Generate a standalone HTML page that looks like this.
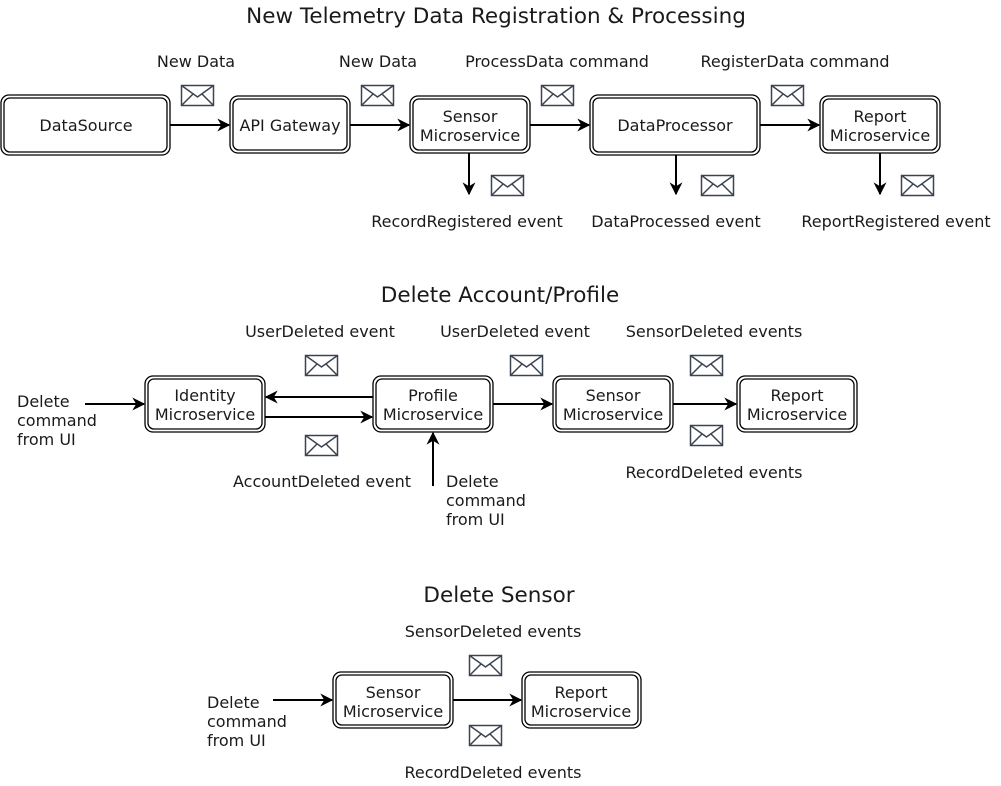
<!DOCTYPE html>
<html><head><meta charset="utf-8"><style>
html,body{margin:0;padding:0;background:#fff;}
svg{display:block;}
text{font-family:"DejaVu Sans","Liberation Sans",sans-serif;fill:#1a1a1a;}
.l{font-size:16px;}
.t{font-size:21.5px;}
</style></head><body>
<svg width="1001" height="786" viewBox="0 0 1001 786" xmlns="http://www.w3.org/2000/svg">
<defs>
<marker id="a" viewBox="0 0 10 10" refX="9" refY="5" markerWidth="13" markerHeight="13" markerUnits="userSpaceOnUse" orient="auto"><path d="M0,0 L10,5 L0,10 L3,5 z" fill="#000"/></marker>
<g id="env"><rect x="0.5" y="0.5" width="32" height="20" fill="#fff" stroke="#3a4451" stroke-width="1.5"/><path d="M0.5,0.5 L16.5,12 L32.5,0.5 M0.5,20.5 L12,9 M32.5,20.5 L21,9" fill="none" stroke="#3a4451" stroke-width="1.5"/></g>
</defs>
<g fill="none" stroke="#000" stroke-width="1.3">
<rect x="1" y="95" width="169" height="60" rx="8"/><rect x="4" y="98" width="163" height="54" rx="6"/>
<rect x="230" y="96" width="120" height="57" rx="8"/><rect x="233" y="99" width="114" height="51" rx="6"/>
<rect x="410" y="96" width="120" height="57" rx="8"/><rect x="413" y="99" width="114" height="51" rx="6"/>
<rect x="590" y="95" width="170" height="60" rx="8"/><rect x="593" y="98" width="164" height="54" rx="6"/>
<rect x="820" y="96" width="120" height="57" rx="8"/><rect x="823" y="99" width="114" height="51" rx="6"/>
<rect x="145" y="376" width="120" height="56" rx="8"/><rect x="148" y="379" width="114" height="50" rx="6"/>
<rect x="373" y="376" width="120" height="56" rx="8"/><rect x="376" y="379" width="114" height="50" rx="6"/>
<rect x="553" y="376" width="120" height="56" rx="8"/><rect x="556" y="379" width="114" height="50" rx="6"/>
<rect x="737" y="376" width="120" height="56" rx="8"/><rect x="740" y="379" width="114" height="50" rx="6"/>
<rect x="333" y="672" width="120" height="56" rx="8"/><rect x="336" y="675" width="114" height="50" rx="6"/>
<rect x="522" y="672" width="119" height="56" rx="8"/><rect x="525" y="675" width="113" height="50" rx="6"/>
</g>
<g fill="none" stroke="#000" stroke-width="2" marker-end="url(#a)">
<line x1="170" y1="125" x2="229" y2="125"/>
<line x1="350" y1="125" x2="409" y2="125"/>
<line x1="530" y1="125" x2="589" y2="125"/>
<line x1="760" y1="125" x2="819" y2="125"/>
<line x1="469" y1="153" x2="469" y2="194"/>
<line x1="676" y1="155" x2="676" y2="194"/>
<line x1="880" y1="153" x2="880" y2="194"/>
<line x1="85" y1="404" x2="144" y2="404"/>
<line x1="373" y1="397" x2="266" y2="397"/>
<line x1="265" y1="417" x2="372" y2="417"/>
<line x1="493" y1="404" x2="552" y2="404"/>
<line x1="673" y1="404" x2="736" y2="404"/>
<line x1="433" y1="486" x2="433" y2="433"/>
<line x1="273" y1="700" x2="332" y2="700"/>
<line x1="453" y1="700" x2="521" y2="700"/>
</g>
<use href="#env" x="181" y="85"/><use href="#env" x="361" y="85"/><use href="#env" x="541" y="85"/><use href="#env" x="771" y="85"/>
<use href="#env" x="491" y="175"/><use href="#env" x="701" y="175"/><use href="#env" x="901" y="175"/>
<use href="#env" x="305" y="355"/><use href="#env" x="305" y="435"/><use href="#env" x="510" y="355"/><use href="#env" x="690" y="355"/><use href="#env" x="690" y="425"/>
<use href="#env" x="469" y="655"/><use href="#env" x="469" y="725"/>
<g class="t" text-anchor="middle">
<text x="496" y="23">New Telemetry Data Registration &amp; Processing</text>
<text x="500" y="302">Delete Account/Profile</text>
<text x="499" y="602">Delete Sensor</text>
</g>
<g class="l" text-anchor="middle">
<text x="86" y="131">DataSource</text>
<text x="290" y="131">API Gateway</text>
<text x="470" y="122">Sensor</text><text x="470" y="141">Microservice</text>
<text x="675" y="131">DataProcessor</text>
<text x="880" y="122">Report</text><text x="880" y="141">Microservice</text>
<text x="196" y="67">New Data</text>
<text x="378" y="67">New Data</text>
<text x="557" y="67">ProcessData command</text>
<text x="795" y="67">RegisterData command</text>
<text x="467" y="227">RecordRegistered event</text>
<text x="676" y="227">DataProcessed event</text>
<text x="896" y="227">ReportRegistered event</text>
<text x="205" y="401">Identity</text><text x="205" y="420">Microservice</text>
<text x="433" y="401">Profile</text><text x="433" y="420">Microservice</text>
<text x="613" y="401">Sensor</text><text x="613" y="420">Microservice</text>
<text x="797" y="401">Report</text><text x="797" y="420">Microservice</text>
<text x="320" y="337">UserDeleted event</text>
<text x="515" y="337">UserDeleted event</text>
<text x="714" y="337">SensorDeleted events</text>
<text x="322" y="487">AccountDeleted event</text>
<text x="714" y="478">RecordDeleted events</text>
<text x="393" y="698">Sensor</text><text x="393" y="717">Microservice</text>
<text x="581" y="698">Report</text><text x="581" y="717">Microservice</text>
<text x="493" y="637">SensorDeleted events</text>
<text x="493" y="778">RecordDeleted events</text>
</g>
<g class="l">
<text x="17" y="407">Delete</text><text x="17" y="426">command</text><text x="17" y="445">from UI</text>
<text x="446" y="487">Delete</text><text x="446" y="506">command</text><text x="446" y="525">from UI</text>
<text x="207" y="708">Delete</text><text x="207" y="727">command</text><text x="207" y="746">from UI</text>
</g>
</svg>
</body></html>
